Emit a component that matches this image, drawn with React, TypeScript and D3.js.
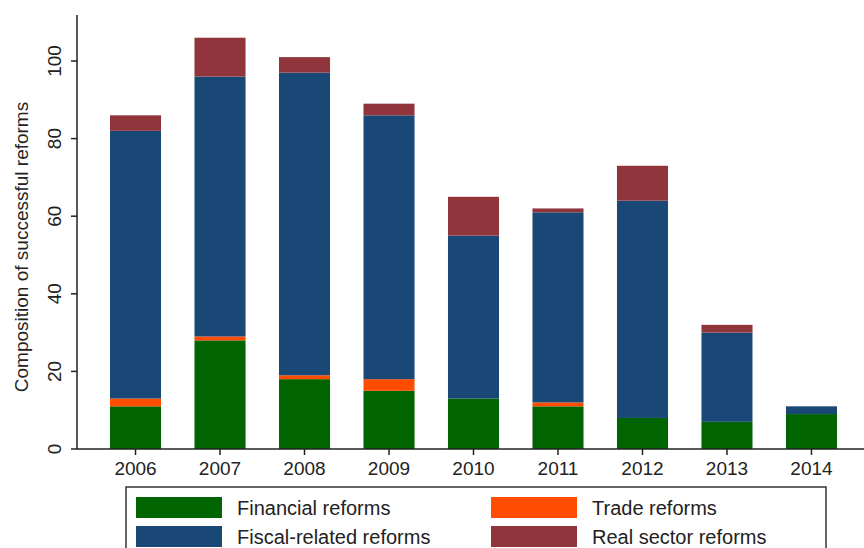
import React from "react";
import * as d3 from "d3";

const years = ["2006", "2007", "2008", "2009", "2010", "2011", "2012", "2013", "2014"];
const financial = [11, 28, 18, 15, 13, 11, 8, 7, 9];
const trade = [2, 1, 1, 3, 0, 1, 0, 0, 0];
const fiscal = [69, 67, 78, 68, 42, 49, 56, 23, 2];
const realSector = [4, 10, 4, 3, 10, 1, 9, 2, 0];
const yTicks = [0, 20, 40, 60, 80, 100];

const seriesNames = ["Financial reforms", "Trade reforms", "Fiscal-related reforms", "Real sector reforms"];
const colors = ["#006400", "#ff4c00", "#1a4876", "#90353b"];

export default function App() {
  const width = 864, height = 548;
  const left = 77, top = 15, bottom = 449;
  const x = d3.scaleBand().domain(years).range([110, 837]).paddingInner(0.396).paddingOuter(0);
  const y = d3.scaleLinear().domain([0, 112]).range([bottom, bottom - 112 * 3.88]);
  const rows = years.map((yr, i) => ({ year: yr, f: financial[i], t: trade[i], s: fiscal[i], r: realSector[i] }));
  const stack = d3.stack<any>().keys(["f", "t", "s", "r"])(rows);
  const font = "Liberation Sans, Arial, sans-serif";
  return (
    <svg width={width} height={height} style={{ position: "absolute", left: 0, top: 0, background: "#fff" }} fontFamily={font}>
      {stack.map((layer, k) =>
        layer.map((d, i) => (
          <rect key={k + "-" + i} x={x(years[i])} width={x.bandwidth()} y={y(d[1])} height={y(d[0]) - y(d[1])} fill={colors[k]} />
        ))
      )}
      <line x1={left} x2={left} y1={top} y2={bottom} stroke="#222" strokeWidth={1.5} />
      <line x1={left} x2={width} y1={bottom} y2={bottom} stroke="#222" strokeWidth={1.5} />
      {yTicks.map(t => (
        <g key={t}>
          <line x1={left - 6} x2={left} y1={y(t)} y2={y(t)} stroke="#222" strokeWidth={1.5} />
          <text transform={`translate(${left - 16},${y(t)}) rotate(-90)`} textAnchor="middle" fontSize={19} fill="#222">{t}</text>
        </g>
      ))}
      {years.map(yr => (
        <g key={yr}>
          <line x1={x(yr)! + x.bandwidth() / 2} x2={x(yr)! + x.bandwidth() / 2} y1={bottom} y2={bottom + 6} stroke="#222" strokeWidth={1.5} />
          <text x={x(yr)! + x.bandwidth() / 2} y={bottom + 26} textAnchor="middle" fontSize={19} fill="#222">{yr}</text>
        </g>
      ))}
      <text transform={`translate(28,${(top + bottom) / 2 + 15}) rotate(-90)`} textAnchor="middle" fontSize={19} fill="#222">Composition of successful reforms</text>
      <rect x={126} y={487} width={700} height={80} fill="none" stroke="#333" strokeWidth={1.5} />
      {seriesNames.map((n, i) => {
        const col = i === 0 || i === 2 ? 0 : 1;
        const row = i < 2 ? 0 : 1;
        const lx = 136 + col * 355, ly = 497 + row * 29;
        return (
          <g key={n}>
            <rect x={lx} y={ly} width={86} height={21} fill={colors[i]} />
            <text x={lx + 101} y={ly + 18} fontSize={20} fill="#222">{n}</text>
          </g>
        );
      })}
    </svg>
  );
}
